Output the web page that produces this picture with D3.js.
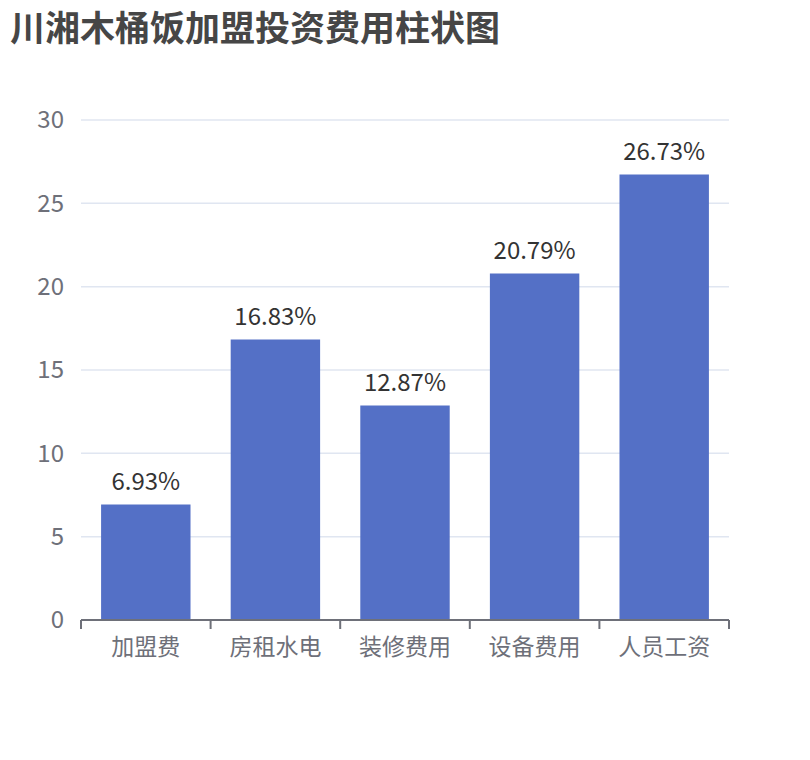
<!DOCTYPE html>
<meta charset="utf-8">
<script src="https://d3js.org/d3.v7.min.js"></script>
<style>
  body { margin: 0; background: #fff; }
  text { font-family: "Noto Sans CJK SC", "Noto Sans", sans-serif; }
</style>
<div id="chart"></div>
<script>
// data
const categories = ["加盟费", "房租水电", "装修费用", "设备费用", "人员工资"];
const values = [6.93, 16.83, 12.87, 20.79, 26.73];
const yTicks = [0, 5, 10, 15, 20, 25, 30];

const W = 810, H = 760;
const margin = {top: 120, right: 81, bottom: 140, left: 81};
const width = W - margin.left - margin.right,
      height = H - margin.top - margin.bottom;

const svg = d3.select("#chart").append("svg")
    .attr("width", W).attr("height", H);

svg.append("text")
    .attr("x", 10).attr("y", 41)
    .attr("fill", "#464646")
    .style("font-size", "35px")
    .style("font-weight", "bold")
    .text("川湘木桶饭加盟投资费用柱状图");

const g = svg.append("g")
    .attr("transform", `translate(${margin.left},${margin.top})`);

const x = d3.scaleBand().domain(categories).range([0, width]).paddingInner(0).paddingOuter(0);
const y = d3.scaleLinear().domain([0, 30]).range([height, 0]);

// grid
g.selectAll(".grid").data(yTicks.filter(d => d > 0)).join("line")
    .attr("x1", 0).attr("x2", width)
    .attr("y1", d => y(d)).attr("y2", d => y(d))
    .attr("stroke", "#E0E6F1").attr("stroke-width", 1.5);

// y labels
g.selectAll(".ylab").data(yTicks).join("text")
    .attr("x", -17).attr("y", d => y(d))
    .attr("dy", "0.35em")
    .attr("text-anchor", "end")
    .attr("fill", "#6E7079")
    .style("font-size", "24px")
    .text(d => d);

// bars
const bw = x.bandwidth() * 0.69;
g.selectAll(".bar").data(values).join("rect")
    .attr("x", (d, i) => x(categories[i]) + (x.bandwidth() - bw) / 2)
    .attr("y", d => y(d))
    .attr("width", bw)
    .attr("height", d => height - y(d))
    .attr("fill", "#5470C6");

// value labels
g.selectAll(".vlab").data(values).join("text")
    .attr("x", (d, i) => x(categories[i]) + x.bandwidth() / 2)
    .attr("y", d => y(d) - 15)
    .attr("text-anchor", "middle")
    .attr("fill", "#333")
    .style("font-size", "24px")
    .text(d => d.toFixed(2) + "%");

// x axis
const ax = g.append("g").attr("transform", `translate(0,${height})`);
ax.append("line").attr("x1", 0).attr("x2", width)
    .attr("stroke", "#6E7079").attr("stroke-width", 2);
const bounds = categories.map(c => x(c)).concat([width]);
ax.selectAll(".tick").data(bounds).join("line")
    .attr("x1", d => d).attr("x2", d => d)
    .attr("y1", 0).attr("y2", 9)
    .attr("stroke", "#6E7079").attr("stroke-width", 2);
ax.selectAll(".xlab").data(categories).join("text")
    .attr("x", d => x(d) + x.bandwidth() / 2)
    .attr("y", 35)
    .attr("text-anchor", "middle")
    .attr("fill", "#6E7079")
    .style("font-size", "23px")
    .text(d => d);
</script>
